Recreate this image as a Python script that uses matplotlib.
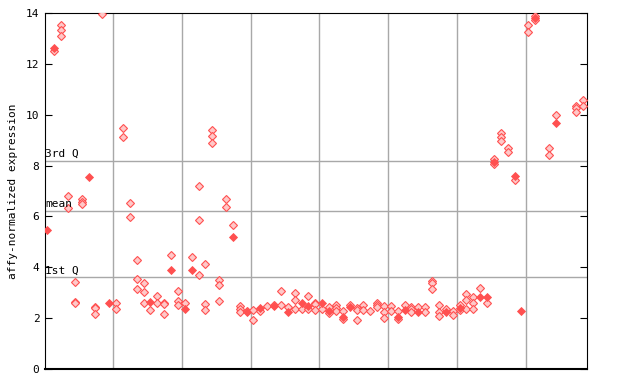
import numpy as np
import matplotlib
matplotlib.use("Agg")
import matplotlib.pyplot as plt

# sample index -> values; hollow (light) and filled (solid) markers
hollow = {
    1: [12.5], 2: [13.53, 13.32, 13.08], 3: [6.8, 6.32], 4: [3.42, 2.65, 2.6],
    5: [6.67, 6.58, 6.49], 7: [2.43, 2.38, 2.15], 8: [13.95], 10: [2.58, 2.35],
    11: [9.46, 9.11], 12: [6.54, 5.97], 13: [4.27, 3.54, 3.13], 14: [3.37, 3.02, 2.58],
    15: [2.31], 16: [2.89, 2.58], 17: [2.6, 2.55, 2.15], 18: [4.47], 19: [3.05, 2.66, 2.5],
    20: [2.58], 21: [4.39], 22: [7.18, 5.85, 3.68], 23: [4.12, 2.54, 2.31],
    24: [9.38, 9.15, 8.87], 25: [3.5, 3.29, 2.66], 26: [6.67, 6.36], 27: [5.68],
    28: [2.48, 2.35, 2.23], 29: [2.3], 30: [2.31, 1.91], 31: [2.27], 32: [2.46],
    33: [2.5], 34: [3.05, 2.5], 35: [2.43], 36: [2.97, 2.7, 2.35], 37: [2.35],
    38: [2.86, 2.35], 39: [2.6, 2.55, 2.31], 40: [2.35], 41: [2.43, 2.2],
    42: [2.5, 2.38, 2.27], 43: [2.27, 1.95], 44: [2.5], 45: [2.38, 2.31, 1.91],
    46: [2.5, 2.31], 47: [2.27], 48: [2.58, 2.5, 2.43], 49: [2.46, 2.23, 1.99],
    50: [2.46, 2.27], 51: [2.27, 1.95], 52: [2.5], 53: [2.43, 2.35, 2.23],
    54: [2.43], 55: [2.43, 2.23], 56: [3.45, 3.37, 3.13], 57: [2.5, 2.23, 2.07],
    58: [2.35], 59: [2.27, 2.11], 60: [2.5, 2.31], 61: [2.93, 2.7, 2.35],
    62: [2.82, 2.6, 2.35], 63: [3.17], 64: [2.6], 65: [8.24, 8.05],
    66: [9.27, 9.11, 8.95], 67: [8.71, 8.52], 68: [7.45], 70: [13.51, 13.27],
    71: [13.89, 13.74], 73: [8.68, 8.4], 74: [9.97], 77: [10.36, 10.28, 10.09],
    78: [10.56, 10.33],
}
filled = {
    0: 5.45, 1: 12.64, 6: 7.54, 9: 2.61, 15: 2.65, 18: 3.9, 20: 2.37, 21: 3.88,
    27: 5.19, 29: 2.23, 31: 2.38, 33: 2.46, 35: 2.23, 37: 2.58, 38: 2.46, 40: 2.6,
    41: 2.27, 43: 2.03, 44: 2.43, 51: 2.03, 52: 2.31, 54: 2.23, 58: 2.23, 60: 2.38,
    63: 2.84, 64: 2.84, 65: 8.16, 68: 7.6, 69: 2.29, 71: 13.8, 74: 9.69,
}
q1, mean_val, q3 = 3.6, 6.2, 8.18

hx = [k for k, v in hollow.items() for _ in v]
hy = [y for v in hollow.values() for y in v]
fx = list(filled.keys())
fy = list(filled.values())

red = "#ff5050"
plt.rcParams["font.family"] = "DejaVu Sans Mono"

fig = plt.figure(figsize=(6.4, 3.84), dpi=100)
ax = fig.add_axes([45 / 640, 15 / 384, 542 / 640, 356 / 384])

ax.plot(hx, hy, "D", ms=3.6, mfc="#ffc8c8", mec=red, mew=0.8, ls="none", zorder=3)
ax.plot(fx, fy, "D", ms=4.4, mfc=red, mec=red, mew=0.6, ls="none", zorder=4)

ax.set_xlim(-0.35, 78.55)
ax.set_ylim(0, 14)
ax.set_xticks(np.arange(9.6, 78, 10))
ax.set_xticklabels([])
ax.tick_params(axis="x", length=0)
ax.grid(axis="x", color="#a8a8a8", lw=1)

for v, lab in [(q1, "1st Q"), (mean_val, "mean"), (q3, "3rd Q")]:
    ax.axhline(v, color="#a8a8a8", lw=1, zorder=1)
    ax.text(-0.35, v + 0.08, lab, fontsize=8, va="bottom", ha="left")

ax.set_yticks(np.arange(0, 15, 2))
ax.tick_params(axis="y", direction="in", length=5, labelsize=8, right=True, pad=4)
ax.set_ylabel("affy-normalized expression", fontsize=8, labelpad=6)
for s in ax.spines.values():
    s.set_color("black")
ax.spines["bottom"].set_linewidth(1.5)

fig.savefig("out.png", dpi=100)
